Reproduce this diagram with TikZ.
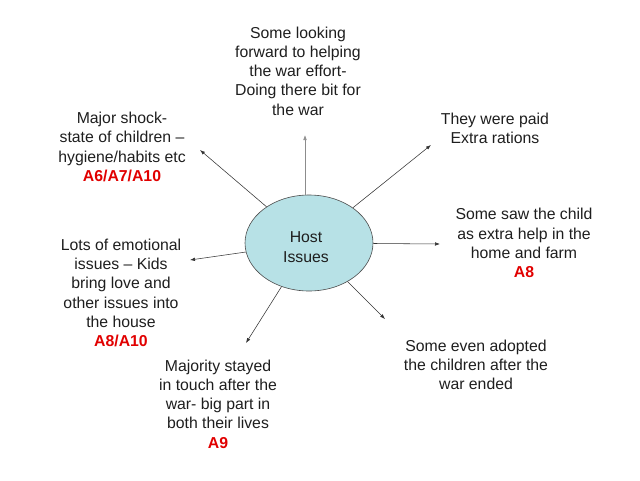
\documentclass[tikz,border=0pt]{standalone}
\usepackage{fontspec}
\setmainfont{Liberation Sans}
\usetikzlibrary{arrows.meta,shapes.geometric}
\definecolor{hostfill}{RGB}{183,225,230}
\definecolor{txt}{RGB}{30,30,30}
\definecolor{ared}{RGB}{225,0,0}
\tikzset{
  lbl/.style={align=center, inner sep=0pt, text=txt, font=\fontsize{15.8}{19.3}\selectfont},
  arr/.style={-{Latex[length=5pt,width=3.6pt]}, line width=0.55pt, draw=black!80},
  hub/.style={ellipse, draw=black!70, line width=0.6pt, fill=hostfill, minimum width=128pt, minimum height=96pt, inner sep=0pt}
}
\newcommand{\aref}[1]{\textcolor{ared}{\bfseries #1}}
\begin{document}
\begin{tikzpicture}[x=1pt,y=-1pt]
\useasboundingbox (0,0) rectangle (640,480);
\node[hub] (hub) at (309,243) {};
\node[lbl] (hubtxt) at (306,247) {Host\\Issues};

\node[lbl] (top) at (298,71) {Some looking\\forward to helping\\the war effort-\\Doing there bit for\\the war};
\node[lbl] (ul) at (122,147) {Major shock-\\state of children --\\hygiene/habits etc\\\aref{A6/A7/A10}};
\node[lbl] (ur) at (495,128) {They were paid\\Extra rations};
\node[lbl] (r) at (524,243) {Some saw the child\\as extra help in the\\home and farm\\\aref{A8}};
\node[lbl] (lr) at (476,365) {Some even adopted\\the children after the\\war ended};
\node[lbl] (ll) at (218,404) {Majority stayed\\in touch after the\\war- big part in\\both their lives\\\aref{A9}};
\node[lbl] (l) at (121,293) {Lots of emotional\\issues -- Kids\\bring love and\\other issues into\\the house\\\aref{A8/A10}};

\coordinate (ttop) at (305,135);
\coordinate (tul) at (200,150);
\coordinate (tur) at (431,145);
\coordinate (tr) at (440,244);
\coordinate (tlr) at (385,319);
\coordinate (tll) at (246,343);
\coordinate (tl) at (190,260);

\draw[arr, draw=black!45] (hub.north -| ttop) -- (ttop);
\draw[arr] (hub) -- (tul);
\draw[arr] (hub) -- (tur);
\draw[arr] (hub) -- (tr);
\draw[arr] (hub) -- (tlr);
\draw[arr] (hub) -- (tll);
\draw[arr] (hub) -- (tl);
\end{tikzpicture}
\end{document}
